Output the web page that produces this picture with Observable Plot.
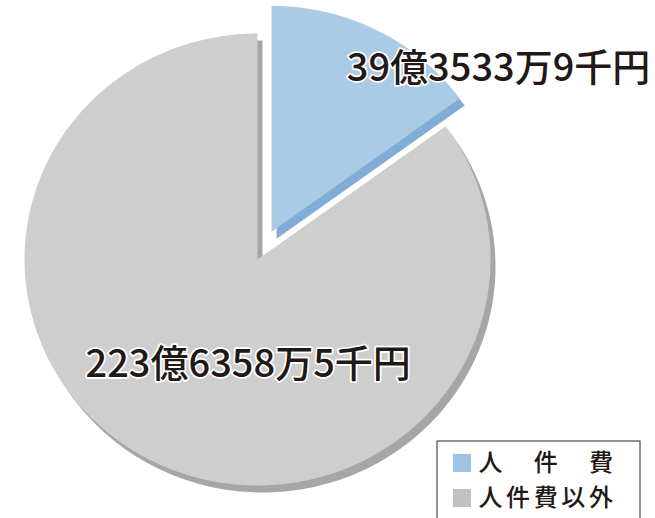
<!DOCTYPE html>
<html>
<head>
<meta charset="utf-8">
<script src="https://cdn.jsdelivr.net/npm/d3@7"></script>
<script src="https://cdn.jsdelivr.net/npm/@observablehq/plot@0.6"></script>
<style>
  html, body { margin: 0; padding: 0; background: #fff; }
  svg { display: block; font-family: "Noto Sans CJK JP", sans-serif; }
  .legend-text text { letter-spacing: 3.6px; }
</style>
</head>
<body>
<div id="chart"></div>
<script>
// ---- data (千円) ----
const categories = ["人件費", "人件費以外"];
const values = [3935339, 22363585];
const valueLabels = ["39億3533万9千円", "223億6358万5千円"];
const legendLabels = ["人　件　費", "人件費以外"];

// ---- styles / layout ----
const topColors = ["#abcae6", "#cecece"];
const sideColors = ["#80acd6", "#a6a6a6"];
const swatchColors = ["#9fc3e4", "#c1c1c1"];
const W = 655, H = 518;
const cx = 257, cy = 259, rx = 233, ry = 226;
const explode = [31, 0];
const depth = {dx: 5, dy: 7};
const labelPolar = [{angle: 53, rx: 1.22, ry: 1.2}, {angle: 185, rx: 0.46, ry: 0.47}];

const arcs = d3.pie().sort(null).value(d => d.value)(
  categories.map((c, i) => ({category: c, value: values[i], i}))
);

function vertexOf(a) {
  const i = a.data.i;
  const mid = (a.startAngle + a.endAngle) / 2;
  return {vx: cx + explode[i] * Math.sin(mid) * rx / ry * 0.97, vy: cy - explode[i] * Math.cos(mid)};
}

function slicePoints(a, ox, oy) {
  const i = a.data.i;
  const {vx: bx, vy: by} = vertexOf(a);
  const vx = bx + ox, vy = by + oy;
  const pts = [{x: vx, y: vy, i}];
  const n = Math.max(2, Math.ceil((a.endAngle - a.startAngle) / (Math.PI / 180)));
  for (let k = 0; k <= n; ++k) {
    const t = a.startAngle + (a.endAngle - a.startAngle) * k / n;
    pts.push({x: vx + rx * Math.sin(t), y: vy - ry * Math.cos(t), i});
  }
  pts.push({x: vx, y: vy, i});
  return pts;
}

const marks = [];
// 3D side (shadow) first, then top faces
arcs.forEach(a => {
  marks.push(Plot.line(slicePoints(a, depth.dx, depth.dy), {x: "x", y: "y", fill: sideColors[a.data.i], stroke: "none"}));
});
arcs.forEach(a => {
  marks.push(Plot.line(slicePoints(a, 0, 0), {x: "x", y: "y", fill: topColors[a.data.i], stroke: "none"}));
});

// value labels positioned from slice geometry
const labelData = arcs.map(a => {
  const i = a.data.i;
  const {vx, vy} = vertexOf(a);
  const L = labelPolar[i];
  const t = L.angle * Math.PI / 180;
  return {x: vx + L.rx * rx * Math.sin(t), y: vy - L.ry * ry * Math.cos(t), text: valueLabels[i]};
});
marks.push(Plot.text(labelData, {
  x: "x", y: "y", text: "text",
  fontSize: 38, fontWeight: 500, fill: "#231815", stroke: "white", strokeWidth: 3.5,
  fontFamily: "Noto Sans CJK JP", textAnchor: "middle"
}));

// legend (inside plot, bottom right)
const legBox = {x1: 437, x2: 640, y1: 441, y2: 540};
marks.push(Plot.rect([legBox], {x1: "x1", x2: "x2", y1: "y1", y2: "y2", fill: "white", stroke: "#4d4d4d", strokeWidth: 1.2}));
const legRows = categories.map((c, i) => ({i, label: legendLabels[i], y: 463 + i * 35}));
marks.push(Plot.rect(legRows, {x1: 453, x2: 471, y1: d => d.y - 9, y2: d => d.y + 9, fill: d => swatchColors[d.i]}));
marks.push(Plot.text(legRows, {x: 478, y: "y", text: "label", textAnchor: "start", fontSize: 24, fontWeight: 500, fill: "#231815", fontFamily: "Noto Sans CJK JP", className: "legend-text"}));

const chart = Plot.plot({
  width: W, height: H, margin: 0,
  x: {type: "identity", axis: null},
  y: {type: "identity", axis: null},
  style: {background: "white"},
  marks
});
document.getElementById("chart").append(chart);
</script>
</body>
</html>
